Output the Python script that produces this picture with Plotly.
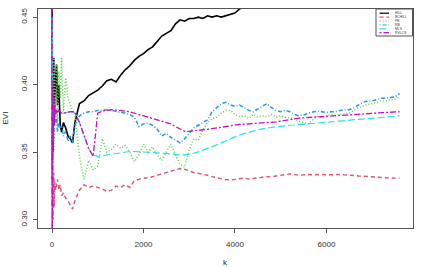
import plotly.graph_objects as go

# shared k grid
k = [2, 5, 10, 15, 20, 30, 40, 50, 60, 80, 100, 120, 150, 180, 210, 250, 300, 350, 400, 450, 500] + \
    list(range(600, 7601, 100))

hill = [0.46, 0.33, 0.41, 0.36, 0.40, 0.38, 0.42, 0.37, 0.39, 0.405, 0.415, 0.385, 0.40, 0.37, 0.365, 0.372, 0.368, 0.362, 0.360, 0.357, 0.372,
        0.386, 0.388, 0.392, 0.394, 0.396, 0.399, 0.403, 0.404, 0.402, 0.407, 0.411, 0.414, 0.418, 0.421, 0.423, 0.426, 0.428, 0.432, 0.436, 0.438,
        0.440, 0.445, 0.448, 0.447, 0.449, 0.449, 0.450, 0.449, 0.451, 0.450, 0.451, 0.450, 0.451, 0.4515, 0.453, 0.456, 0.458, 0.461, 0.463, 0.465,
        0.466, 0.468, 0.470, 0.471, 0.473, 0.474, 0.476, 0.477, 0.478, 0.480, 0.481, 0.482, 0.484, 0.485, 0.486, 0.487, 0.489, 0.490, 0.491, 0.492,
        0.493, 0.494, 0.495, 0.496, 0.497, 0.498, 0.499, 0.500, 0.501, 0.502, 0.503]

bchill = [0.29, 0.34, 0.31, 0.33, 0.30, 0.32, 0.335, 0.31, 0.328, 0.322, 0.325, 0.330, 0.322, 0.326, 0.318, 0.320, 0.316, 0.314, 0.311, 0.308, 0.314,
          0.322, 0.326, 0.324, 0.325, 0.324, 0.323, 0.321, 0.322, 0.325, 0.324, 0.326, 0.324, 0.329, 0.330, 0.331, 0.331, 0.332, 0.333, 0.334, 0.335,
          0.336, 0.337, 0.338, 0.3375, 0.336, 0.335, 0.3345, 0.334, 0.333, 0.332, 0.331, 0.3305, 0.3298, 0.3296, 0.330, 0.3305, 0.331, 0.3302, 0.3308, 0.331,
          0.3315, 0.332, 0.3318, 0.3325, 0.333, 0.3335, 0.334, 0.3335, 0.333, 0.3333, 0.3336, 0.3333, 0.3335, 0.3337, 0.3333, 0.3335, 0.3332, 0.3336, 0.3333, 0.3333,
          0.3328, 0.3325, 0.3322, 0.332, 0.3318, 0.3316, 0.3315, 0.3312, 0.331, 0.3308, 0.3308]

pe = [0.29, 0.44, 0.33, 0.43, 0.36, 0.41, 0.35, 0.42, 0.38, 0.40, 0.415, 0.37, 0.41, 0.39, 0.42, 0.38, 0.405, 0.39, 0.385, 0.38, 0.378,
      0.347, 0.330, 0.344, 0.337, 0.340, 0.360, 0.350, 0.352, 0.356, 0.353, 0.355, 0.350, 0.343, 0.348, 0.356, 0.350, 0.354, 0.348, 0.344, 0.350,
      0.356, 0.348, 0.341, 0.339, 0.352, 0.360, 0.359, 0.367, 0.372, 0.375, 0.376, 0.379, 0.381, 0.381, 0.378, 0.3765, 0.377, 0.375, 0.378, 0.376,
      0.377, 0.3765, 0.378, 0.376, 0.377, 0.376, 0.3755, 0.375, 0.373, 0.372, 0.371, 0.374, 0.3765, 0.376, 0.377, 0.378, 0.3775, 0.378, 0.379, 0.379,
      0.381, 0.383, 0.384, 0.3855, 0.386, 0.387, 0.388, 0.388, 0.3885, 0.3895, 0.391]

rb = [0.31, 0.42, 0.35, 0.40, 0.37, 0.39, 0.36, 0.38, 0.375, 0.37, 0.38, 0.365, 0.372, 0.368, 0.37, 0.362, 0.366, 0.358, 0.362, 0.357, 0.370,
      0.377, 0.379, 0.380, 0.380, 0.381, 0.381, 0.3815, 0.381, 0.380, 0.3795, 0.379, 0.378, 0.376, 0.369, 0.371, 0.3716, 0.370, 0.367, 0.362, 0.364,
      0.361, 0.359, 0.357, 0.360, 0.364, 0.368, 0.370, 0.372, 0.374, 0.380, 0.383, 0.386, 0.387, 0.385, 0.384, 0.385, 0.383, 0.381, 0.380, 0.382,
      0.384, 0.386, 0.383, 0.381, 0.380, 0.381, 0.380, 0.378, 0.377, 0.3775, 0.379, 0.380, 0.3805, 0.380, 0.3795, 0.380, 0.380, 0.381, 0.3815, 0.3815,
      0.383, 0.385, 0.387, 0.388, 0.388, 0.389, 0.390, 0.390, 0.3905, 0.391, 0.3935]

mls = [0.295, 0.45, 0.36, 0.40, 0.37, 0.39, 0.38, 0.385, 0.382, 0.38, 0.381, 0.380, 0.380, 0.3795, 0.379, 0.379, 0.3795, 0.380, 0.380, 0.380, 0.3795,
       0.372, 0.362, 0.353, 0.348, 0.347, 0.3475, 0.348, 0.349, 0.3495, 0.350, 0.3505, 0.3506, 0.3506, 0.3505, 0.3503, 0.350, 0.3498, 0.3496, 0.3494, 0.349,
       0.3486, 0.3483, 0.3481, 0.3481, 0.3485, 0.3493, 0.3503, 0.3515, 0.353, 0.354, 0.3555, 0.357, 0.3585, 0.360, 0.3617, 0.3628, 0.3638, 0.3648, 0.3657, 0.3665,
       0.3673, 0.368, 0.3685, 0.369, 0.3694, 0.3697, 0.370, 0.3702, 0.3704, 0.3707, 0.371, 0.3713, 0.3716, 0.3719, 0.3722, 0.3726, 0.3729, 0.3732, 0.3735, 0.3738,
       0.3741, 0.3743, 0.3745, 0.3747, 0.375, 0.3753, 0.3756, 0.376, 0.3764, 0.3767, 0.377]

rvlcs = [0.46, 0.29, 0.44, 0.31, 0.40, 0.35, 0.39, 0.37, 0.385, 0.378, 0.382, 0.379, 0.381, 0.380, 0.379, 0.379, 0.3795, 0.380, 0.380, 0.380, 0.3795,
         0.372, 0.362, 0.353, 0.347, 0.379, 0.3805, 0.381, 0.3815, 0.3812, 0.381, 0.3805, 0.380, 0.379, 0.378, 0.377, 0.376, 0.375, 0.374, 0.3735, 0.3725,
         0.371, 0.369, 0.367, 0.3655, 0.3655, 0.3658, 0.366, 0.3665, 0.367, 0.3675, 0.368, 0.3688, 0.3695, 0.370, 0.3704, 0.3706, 0.3708, 0.371, 0.3712, 0.3714,
         0.3715, 0.3716, 0.372, 0.3725, 0.373, 0.3737, 0.3743, 0.3748, 0.3753, 0.3755, 0.3757, 0.3759, 0.3761, 0.3763, 0.3764, 0.3765, 0.3767, 0.3769, 0.3771, 0.3773,
         0.3776, 0.3779, 0.3782, 0.3785, 0.3788, 0.379, 0.3793, 0.3795, 0.3797, 0.3799, 0.380]

names = ["HILL", "BCHILL", "PE", "RB", "MLS", "RVLCS"]
series = [hill, bchill, pe, rb, mls, rvlcs]
colors = ["#000000", "#DF536B", "#61D04F", "#2297E6", "#28E2E5", "#CD0BBC"]
dashes = ["solid", "4px,3px", "1px,2px", "1px,2px,4px,2px", "7px,3px", "2px,2px,6px,2px"]
widths = [1.6, 1.4, 1.6, 1.5, 1.2, 1.3]
xticks = [0, 2000, 4000, 6000]
yticks = [0.30, 0.35, 0.40, 0.45]

fig = go.Figure()
for nm, ys, c, d, w in zip(names, series, colors, dashes, widths):
    fig.add_trace(go.Scatter(x=k, y=ys, mode="lines", name=nm,
                             line=dict(color=c, width=w, dash=d), hoverinfo="skip"))

W, H = 423, 267
L, R, T, B = 38, 10, 9, 39
fig.update_layout(
    template="none",
    width=W, height=H, margin=dict(l=L, r=R, t=T, b=B),
    plot_bgcolor="white", paper_bgcolor="white", showlegend=False,
    font=dict(family="Liberation Sans, Arial", size=8, color="#333333"),
)
fig.update_xaxes(range=[-306, 7893], tickvals=xticks, ticktext=[str(v) for v in xticks],
                 showgrid=False, zeroline=False, showline=True, mirror=True, linecolor="#555555", linewidth=1,
                 ticks="outside", ticklen=4, tickcolor="#555555", ticklabelstandoff=4,
                 tickfont=dict(color="#333333", size=8))
fig.update_yaxes(range=[0.294, 0.456], tickvals=yticks, ticktext=["%.2f" % v for v in yticks], tickangle=-90,
                 showgrid=False, zeroline=False, showline=True, mirror=True, linecolor="#555555", linewidth=1,
                 ticks="outside", ticklen=4, tickcolor="#555555", ticklabelstandoff=3,
                 tickfont=dict(color="#333333", size=8))

# axis titles
pw = W - L - R
ph = H - T - B
fig.add_annotation(text="k", xref="paper", yref="paper", x=0.5, y=-(262.7 - (H - B)) / ph,
                   showarrow=False, font=dict(size=8, color="#222222"), yanchor="middle")
fig.add_annotation(text="EVI", xref="paper", yref="paper", x=-(L - 5) / pw, y=0.5, textangle=-90,
                   showarrow=False, font=dict(size=8, color="#222222"), xanchor="center")

# manual legend (top-right)
def px2paper_x(px):
    return (px - L) / pw

def px2paper_y(py):
    return 1 - (py - T) / ph

lx0, lx1, ly0, ly1 = 376, 412.5, 9, 36
fig.add_shape(type="rect", xref="paper", yref="paper", x0=px2paper_x(lx0), x1=px2paper_x(lx1),
              y0=px2paper_y(ly1), y1=px2paper_y(ly0), line=dict(color="#555555", width=1), fillcolor="white")
rows = [13.2, 17.2, 21.2, 25.0, 28.8, 32.6]
for nm, c, d, ry in zip(names, colors, dashes, rows):
    fig.add_shape(type="line", xref="paper", yref="paper", x0=px2paper_x(379.5), x1=px2paper_x(389),
                  y0=px2paper_y(ry), y1=px2paper_y(ry), line=dict(color=c, width=1.2, dash=d))
    fig.add_annotation(text=nm, xref="paper", yref="paper", x=px2paper_x(392.5), y=px2paper_y(ry),
                       xanchor="left", yanchor="middle", showarrow=False,
                       font=dict(size=3.4, color="#333333"))

fig.write_html("out.html")
